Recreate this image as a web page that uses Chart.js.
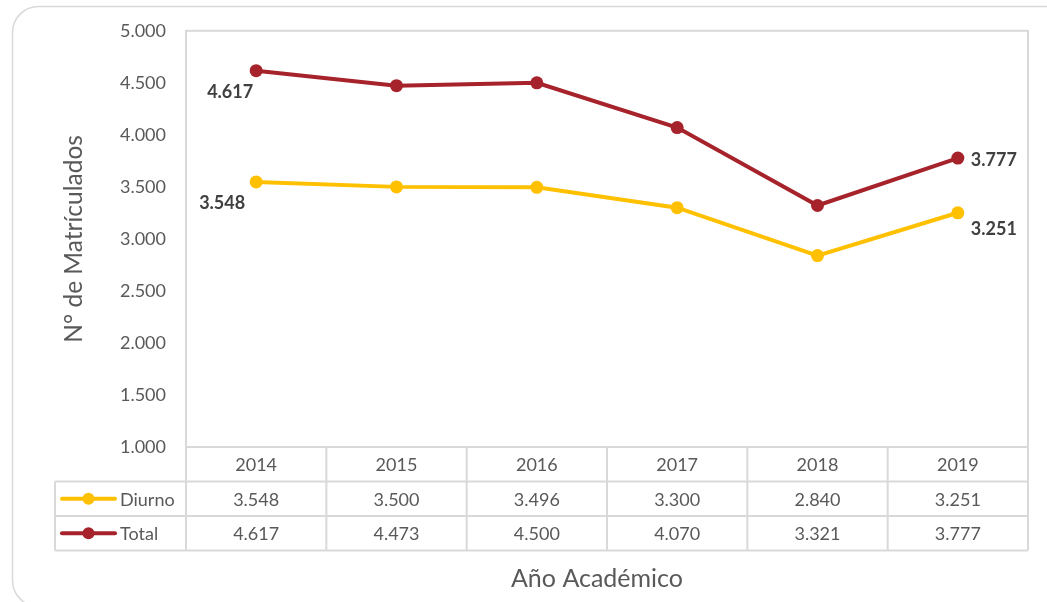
<!DOCTYPE html>
<html>
<head>
<meta charset="utf-8">
<script src="https://cdn.jsdelivr.net/npm/chart.js@4"></script>
<style>
  html, body { margin: 0; padding: 0; background: #fff; }
  #wrap { width: 1047px; height: 602px; }
</style>
</head>
<body>
<div id="wrap"><canvas id="chart" width="1047" height="602"></canvas></div>
<script>
let years = ['2014', '2015', '2016', '2017', '2018', '2019'];
let diurno = [3548, 3500, 3496, 3300, 2840, 3251];
let total = [4617, 4473, 4500, 4070, 3321, 3777];
let y_ticks = [1000, 1500, 2000, 2500, 3000, 3500, 4000, 4500, 5000];

let FONT = 'Lato';
let GRAY = '#595959';
let LINE = '#d9d9d9';

function fmt(v) {
  return String(v).replace(/\B(?=(\d{3})+(?!\d))/g, '.');
}

// outer rounded frame
let framePlugin = {
  id: 'frame',
  beforeDraw(chart) {
    let ctx = chart.ctx;
    ctx.save();
    ctx.strokeStyle = LINE;
    ctx.lineWidth = 1.5;
    ctx.beginPath();
    ctx.roundRect(12.5, 6.5, 1080, 600, 26);
    ctx.stroke();
    ctx.restore();
  }
};

// plot border, data table and point labels
let tablePlugin = {
  id: 'table',
  afterDraw(chart) {
    let ctx = chart.ctx;
    let area = chart.chartArea;
    let xs = chart.scales.x;
    let colW = (area.right - area.left) / years.length;
    let rowH = 34.5;
    let top = area.bottom;
    let legendLeft = 55;

    ctx.save();
    ctx.strokeStyle = LINE;
    ctx.lineWidth = 2;
    ctx.strokeRect(area.left, area.top, area.right - area.left, area.bottom - area.top);

    // horizontal table lines
    ctx.beginPath();
    ctx.moveTo(area.left, top + rowH);
    ctx.lineTo(area.right, top + rowH);
    ctx.moveTo(legendLeft, top + rowH);
    ctx.lineTo(area.left, top + rowH);
    ctx.moveTo(legendLeft, top + 2 * rowH);
    ctx.lineTo(area.right, top + 2 * rowH);
    ctx.moveTo(legendLeft, top + 3 * rowH);
    ctx.lineTo(area.right, top + 3 * rowH);
    // vertical table lines
    for (let i = 0; i <= years.length; ++i) {
      let x = area.left + i * colW;
      ctx.moveTo(x, top);
      ctx.lineTo(x, top + 3 * rowH);
    }
    ctx.moveTo(legendLeft, top + rowH);
    ctx.lineTo(legendLeft, top + 3 * rowH);
    ctx.stroke();

    // cell text
    ctx.fillStyle = GRAY;
    ctx.font = '18px ' + FONT;
    ctx.textAlign = 'center';
    ctx.textBaseline = 'middle';
    let rows = [years, diurno.map(fmt), total.map(fmt)];
    rows.forEach((row, r) => {
      row.forEach((txt, i) => {
        ctx.fillText(txt, xs.getPixelForValue(i), top + rowH * r + rowH / 2 + 1);
      });
    });

    // legend keys
    chart.data.datasets.forEach((ds, r) => {
      let cy = top + rowH * (r + 1) + rowH / 2;
      ctx.strokeStyle = ds.borderColor;
      ctx.lineWidth = 4;
      ctx.lineCap = 'round';
      ctx.beginPath();
      ctx.moveTo(62, cy);
      ctx.lineTo(115, cy);
      ctx.stroke();
      ctx.fillStyle = ds.borderColor;
      ctx.beginPath();
      ctx.arc(88.5, cy, 6, 0, Math.PI * 2);
      ctx.fill();
      ctx.fillStyle = GRAY;
      ctx.textAlign = 'left';
      ctx.fillText(ds.label, 120, cy + 1);
    });

    // point labels on first and last points
    ctx.font = 'bold 18px ' + FONT;
    ctx.fillStyle = '#404040';
    ctx.textAlign = 'center';
    chart.data.datasets.forEach((ds, d) => {
      let meta = chart.getDatasetMeta(d);
      ds.labelOffsets.forEach(([idx, dx, dy]) => {
        let pt = meta.data[idx];
        ctx.fillText(fmt(ds.data[idx]), pt.x + dx, pt.y + dy);
      });
    });
    ctx.restore();
  }
};

new Chart(document.getElementById('chart'), {
  type: 'line',
  data: {
    labels: years,
    datasets: [
      {
        label: 'Diurno',
        data: diurno,
        borderColor: '#FFC000',
        backgroundColor: '#FFC000',
        borderWidth: 4,
        pointRadius: 6.5,
        pointBorderWidth: 0,
        labelOffsets: [[0, -34, 21], [5, 36, 16]]
      },
      {
        label: 'Total',
        data: total,
        borderColor: '#A6232B',
        backgroundColor: '#A6232B',
        borderWidth: 4,
        pointRadius: 6.5,
        pointBorderWidth: 0,
        labelOffsets: [[0, -26, 22], [5, 36, 2]]
      }
    ]
  },
  options: {
    responsive: false,
    animation: false,
    layout: { padding: { top: 30, right: 19, bottom: 155, left: 0 } },
    plugins: {
      legend: { display: false },
      tooltip: { enabled: false }
    },
    scales: {
      x: {
        display: false,
        offset: true
      },
      y: {
        min: 1000,
        max: 5000,
        afterBuildTicks(scale) {
          scale.ticks = y_ticks.map(v => ({ value: v }));
        },
        afterFit(scale) { scale.width = 186; },
        grid: { display: false, drawTicks: false },
        border: { display: false },
        ticks: {
          color: GRAY,
          padding: 20,
          font: { family: FONT, size: 18 },
          callback: v => fmt(v)
        },
        title: {
          display: true,
          text: 'N° de Matrículados',
          color: GRAY,
          font: { family: FONT, size: 24.5 },
          padding: { top: 59, bottom: 0 }
        }
      }
    }
  },
  plugins: [framePlugin, tablePlugin, {
    id: 'xtitle',
    afterDraw(chart) {
      let ctx = chart.ctx;
      ctx.save();
      ctx.fillStyle = GRAY;
      ctx.font = '25px ' + FONT;
      ctx.textAlign = 'center';
      ctx.textBaseline = 'middle';
      ctx.fillText('Año Académico', 597, 579);
      ctx.restore();
    }
  }]
});
</script>
</body>
</html>
